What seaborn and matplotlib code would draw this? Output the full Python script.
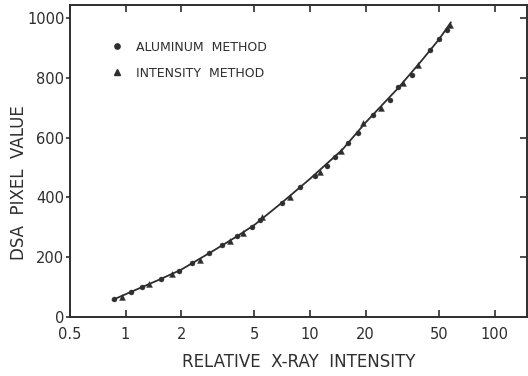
import matplotlib
matplotlib.use("Agg")
import matplotlib.pyplot as plt
import seaborn as sns
import pandas as pd
from matplotlib.lines import Line2D

# ---- data ----
alu_x = [0.865, 1.064, 1.23, 1.55, 1.94, 2.29, 2.82, 3.33, 4.01, 4.84, 5.36,
         7.03, 8.83, 10.6, 12.3, 13.6, 16.1, 18.2, 22.0, 27.1, 30.0, 35.5, 44.5, 50.0, 55.0]
alu_y = [59, 85, 101, 127, 155, 180, 213, 241, 271, 302, 324,
         382, 436, 472, 505, 536, 581, 616, 676, 726, 768, 809, 893, 930, 960]
int_x = [0.96, 1.34, 1.79, 2.54, 3.69, 4.32, 5.48, 7.8, 11.3, 14.8, 19.4, 24.4, 32.0, 38.5, 57.6]
int_y = [68, 110, 144, 191, 255, 282, 335, 402, 486, 556, 648, 700, 782, 843, 977]
fit_x = [0.85, 1, 1.5, 2, 3, 4, 5, 7, 10, 15, 20, 30, 40, 50, 58]
fit_y = [57, 76, 123, 158, 222, 269, 308, 381, 462, 560, 650, 765, 855, 928, 985]

x_ticks = [0.5, 1, 2, 5, 10, 20, 50, 100]
x_labels = ["0.5", "1", "2", "5", "10", "20", "50", "100"]
y_ticks = [0, 200, 400, 600, 800, 1000]

sns.set_style("ticks")
plt.rcParams['font.family'] = ['DejaVu Sans']

ink = "#2e2e2e"
fig = plt.figure(figsize=(5.28, 3.76), dpi=100)
ax = fig.add_axes([70/528, 1-317/376, 457/528, 312/376])

sns.lineplot(x=fit_x, y=fit_y, ax=ax, color=ink, lw=1.3, sort=False)
sns.scatterplot(x=int_x, y=int_y, ax=ax, marker="^", s=18, color=ink, edgecolor=ink, linewidth=0.3, zorder=3)
sns.scatterplot(x=alu_x, y=alu_y, ax=ax, marker="o", s=13, color=ink, edgecolor=ink, linewidth=0.3, zorder=4)

ax.set_xscale("log")
ax.set_xlim(0.5, 150)
ax.set_ylim(0, 1043)
ax.set_xticks(x_ticks)
ax.set_xticklabels(x_labels)
ax.minorticks_off()
ax.set_yticks(y_ticks)

for s in ax.spines.values():
    s.set_visible(True)
    s.set_color(ink)
    s.set_linewidth(1.4)

ax.tick_params(axis="x", which="major", direction="in", top=True, length=5, width=1.2,
               color=ink, labelsize=10.5, labelcolor=ink, pad=7)
ax.tick_params(axis="y", which="major", direction="out", left=True, length=3, width=1.2,
               color=ink, labelsize=10.5, labelcolor=ink, pad=1)
ax.tick_params(axis="y", which="major", right=True)
# right ticks point inward
for t in ax.yaxis.get_major_ticks():
    t.tick2line.set_marker(matplotlib.markers.TICKLEFT)
    t.tick2line.set_markersize(5)

ax.set_xlabel("RELATIVE  X-RAY  INTENSITY", fontsize=12, color=ink, labelpad=8)
ax.set_ylabel("DSA  PIXEL  VALUE", fontsize=12, color=ink)
ax.yaxis.set_label_coords(-0.092, 0.43)

handles = [Line2D([], [], ls="none", marker="o", ms=3.8, color=ink),
           Line2D([], [], ls="none", marker="^", ms=4.3, color=ink)]
ax.legend(handles, ["ALUMINUM  METHOD", "INTENSITY  METHOD"], loc="upper left",
          bbox_to_anchor=(0.065, 0.922), frameon=False, fontsize=9,
          handletextpad=1.0, labelspacing=1.05, handlelength=1.0, labelcolor=ink)

fig.savefig("out.png", dpi=100, facecolor="white")
